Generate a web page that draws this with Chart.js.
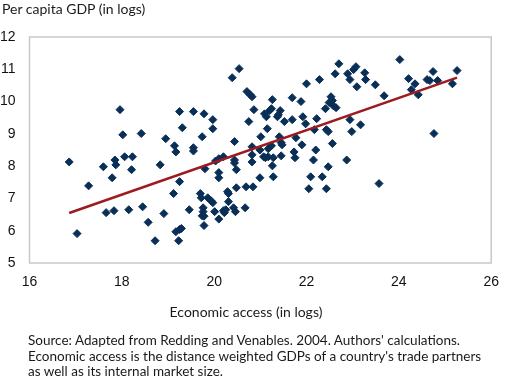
<!DOCTYPE html>
<html>
<head>
<meta charset="utf-8">
<script src="https://cdn.jsdelivr.net/npm/chart.js"></script>
<style>
  body { margin: 0; background: #fff; }
  #wrap { position: relative; width: 510px; height: 377px; font-family: Lato, "Noto Sans", sans-serif; color: #1a1a1a; }
  .txt { position: absolute; font-size: 14px; white-space: nowrap; }
  #ytitle { left: 2px; top: 0px; line-height: 17px; }
  #xtitle { left: 0; width: 492px; text-align: center; top: 304px; line-height: 16px; }
  #note { left: 28px; top: 333px; line-height: 15.5px; font-size: 13.5px; }
</style>
</head>
<body>
<div id="wrap">
  <canvas id="myChart" width="510" height="377"></canvas>
  <div class="txt" id="ytitle">Per capita GDP (in logs)</div>
  <div class="txt" id="xtitle">Economic access (in logs)</div>
  <div class="txt" id="note">Source: Adapted from Redding and Venables. 2004. Authors' calculations.<br>Economic access is the distance weighted GDPs of a country's trade partners<br>as well as its internal market size.</div>
</div>
<script>
// economic access (x) and per capita GDP (y), one entry per country
const economicAccess = [
  16.86, 17.03, 17.28, 17.60, 17.66, 17.79, 17.83, 17.85, 17.87, 17.96,
  18.02, 18.06, 18.15, 18.21, 18.23, 18.42, 18.45, 18.57, 18.72, 18.83,
  18.91, 18.95, 19.12, 19.14, 19.17, 19.17, 19.25, 19.29, 19.23, 19.25,
  19.25, 19.31, 19.46, 19.55, 19.55, 19.55, 19.70, 19.72, 19.74, 19.78,
  19.76, 19.76, 19.74, 19.78, 19.78, 19.80, 19.86, 19.93, 19.97, 19.97,
  19.97, 20.01, 20.03, 20.10, 20.10, 20.10, 20.10, 20.20, 20.20, 20.22,
  20.25, 20.29, 20.31, 20.31, 20.39, 20.42, 20.46, 20.44, 20.44, 20.44,
  20.48, 20.48, 20.54, 20.67, 20.69, 20.71, 20.78, 20.82, 20.75, 20.86,
  20.82, 20.82, 20.82, 20.84, 20.99, 20.99, 21.01, 21.07, 21.11, 21.17,
  21.15, 21.17, 21.24, 21.09, 21.13, 21.24, 21.20, 21.26, 21.26, 21.28,
  21.28, 21.37, 21.39, 21.43, 21.41, 21.45, 21.47, 21.45, 21.52, 21.69,
  21.69, 21.73, 21.75, 21.77, 21.88, 21.90, 21.92, 21.98, 22.00, 22.05,
  22.09, 22.15, 22.17, 22.20, 22.22, 22.28, 22.34, 22.41, 22.43, 22.47,
  22.43, 22.47, 22.49, 22.53, 22.58, 22.64, 22.56, 22.56, 22.62, 22.70,
  22.87, 22.89, 22.94, 22.94, 22.98, 23.02, 23.07, 23.09, 23.17, 23.26,
  23.28, 23.49, 23.57, 23.68, 24.02, 24.21, 24.27, 24.35, 24.42, 24.61,
  24.67, 24.74, 24.76, 24.84, 25.16, 25.26
];
const perCapitaGdp = [
  8.13, 5.91, 7.39, 7.98, 6.56, 7.64, 6.62, 8.19, 8.04, 9.75,
  8.97, 8.29, 6.65, 7.89, 8.29, 9.01, 6.74, 6.26, 5.69, 8.04,
  6.53, 8.85, 7.15, 8.63, 8.44, 5.97, 6.04, 6.07, 5.69, 7.52,
  9.69, 9.19, 6.65, 9.69, 8.57, 8.47, 7.15, 7.02, 8.91, 9.62,
  6.71, 6.59, 6.46, 6.45, 6.16, 7.92, 7.02, 6.93, 6.87, 9.44,
  9.16, 6.59, 8.16, 8.23, 6.36, 7.80, 7.64, 8.29, 6.62, 6.56,
  6.65, 7.21, 7.15, 6.90, 10.74, 6.71, 6.59, 8.76, 8.19, 8.10,
  7.89, 7.33, 11.02, 6.71, 7.36, 10.31, 10.21, 10.15, 9.38, 9.75,
  8.60, 8.35, 8.13, 7.36, 8.50, 7.64, 8.91, 8.29, 8.26, 8.29,
  9.16, 8.54, 8.63, 9.62, 9.53, 9.78, 9.72, 10.06, 8.01, 7.67,
  8.26, 9.53, 9.59, 9.72, 8.91, 8.73, 8.66, 8.32, 9.38, 9.44,
  10.12, 8.44, 8.26, 8.88, 10.00, 8.66, 9.53, 9.31, 10.55, 7.30,
  7.67, 8.19, 9.13, 8.50, 9.47, 10.68, 7.67, 9.78, 9.13, 9.07,
  7.30, 7.98, 9.97, 10.15, 9.87, 9.81, 8.70, 10.03, 10.86, 11.17,
  8.19, 10.86, 10.68, 9.44, 9.07, 10.99, 11.08, 10.46, 9.28, 10.89,
  10.68, 10.52, 7.46, 10.18, 11.30, 10.71, 10.37, 10.55, 10.21, 10.68,
  10.65, 10.93, 9.01, 10.65, 10.55, 10.96
];

// fitted trend line end points
const trendX = [16.86, 25.26];
const trendY = [6.55, 10.74];

// axis ranges
const xTicks = [16, 26, 2];
const yTicks = [5, 12, 1];

// light grey frame round the plot area
const plotBorder = {
    id: 'plotBorder',
    beforeDatasetsDraw(chart) {
        const { ctx, chartArea: a } = chart;
        ctx.save();
        ctx.strokeStyle = '#c8c8c8';
        ctx.lineWidth = 1.5;
        ctx.strokeRect(a.left, a.top, a.right - a.left, a.bottom - a.top);
        ctx.restore();
    }
};

const tickFont = { family: '"Liberation Sans", Arial, sans-serif', size: 14 };

new Chart(document.getElementById('myChart'), {
    type: 'scatter',
    data: {
        datasets: [{
            data: trendX.map((x, i) => ({ x: x, y: trendY[i] })),
            showLine: true,
            borderColor: '#9b1b1f',
            borderWidth: 2.5,
            pointRadius: 0
        }, {
            data: economicAccess.map((x, i) => ({ x: x, y: perCapitaGdp[i] })),
            pointStyle: 'rectRot',
            pointRadius: 4,
            pointBorderWidth: 1,
            backgroundColor: '#0a2f57',
            borderColor: '#0a2f57'
        }]
    },
    options: {
        responsive: false,
        animation: false,
        events: [],
        layout: { padding: { top: 37, right: 8, left: 0, bottom: 0 } },
        plugins: {
            legend: { display: false },
            tooltip: { enabled: false }
        },
        scales: {
            x: {
                min: xTicks[0], max: xTicks[1],
                ticks: { stepSize: xTicks[2], padding: 11, color: '#111', font: tickFont },
                grid: { display: false, drawTicks: false },
                border: { display: false },
                afterFit: function(scale) { scale.height = 114; }
            },
            y: {
                min: yTicks[0], max: yTicks[1],
                ticks: { stepSize: yTicks[2], padding: 14, color: '#111', font: tickFont },
                grid: { display: false, drawTicks: false },
                border: { display: false },
                afterFit: function(scale) { scale.width = 29.5; }
            }
        }
    },
    plugins: [plotBorder]
});
</script>
</body>
</html>
